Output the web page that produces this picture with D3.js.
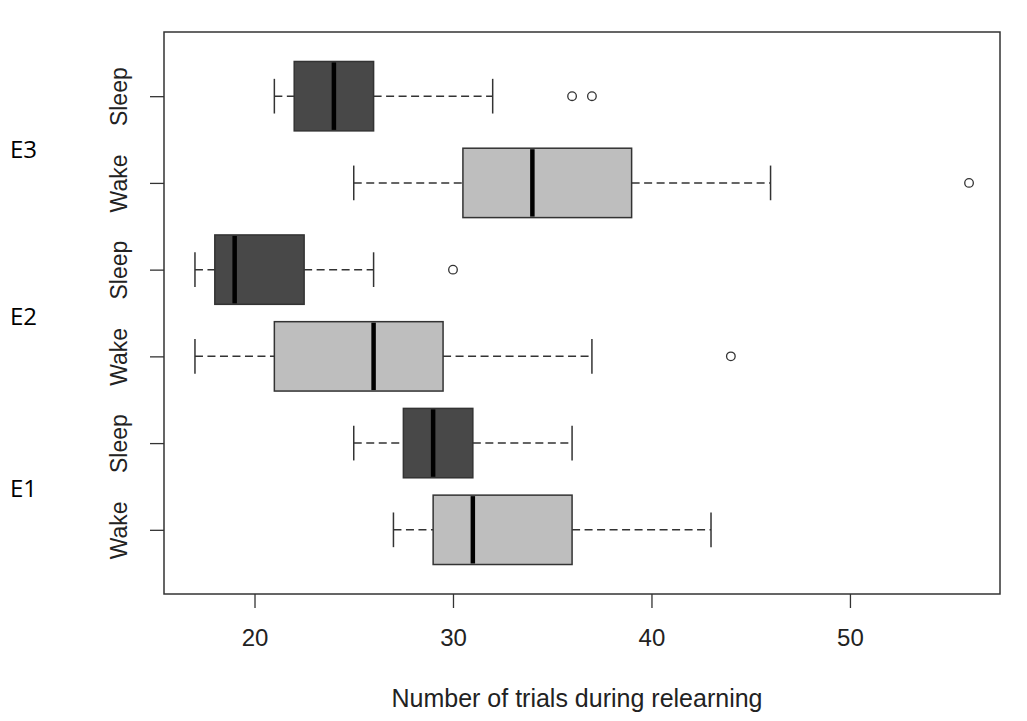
<!DOCTYPE html>
<html lang="en">
  <head>
    <meta charset="UTF-8">
    <title>Relearning trials</title>
    <style>
body {margin: 0; background: #fff;}
text {font-family: "Liberation Sans", Arial, sans-serif;}
.exp {font-family: "Open Sans", "Noto Sans", sans-serif;}
</style>
  </head>
  <body>
<div id="my_dataviz"></div>
<script src="https://d3js.org/d3.v7.min.js"></script>
<script>

// boxes, from bottom (position 1) to top (position 6)
var conditions  = ["Wake", "Sleep", "Wake", "Sleep", "Wake", "Sleep"];
var experiments = ["E1", "E1", "E2", "E2", "E3", "E3"];
var whiskerLow  = [27, 25,   17,   17,   25,   21];
var q1          = [29, 27.5, 21,   18,   30.5, 22];
var median      = [31, 29,   26,   19,   34,   24];
var q3          = [36, 31,   29.5, 22.5, 39,   26];
var whiskerHigh = [43, 36,   37,   26,   46,   32];
var outliers    = [[], [], [44], [30], [56], [36, 37]];
var xTicks      = [20, 30, 40, 50];
var expLabels   = ["E1", "E2", "E3"];
var expPos      = [1.38, 3.36, 5.29];   // label baseline, in box-position units

var boxes = conditions.map(function(c, i) {
  return {pos: i + 1, cond: c, exp: experiments[i], lo: whiskerLow[i], q1: q1[i],
          med: median[i], q3: q3[i], hi: whiskerHigh[i], out: outliers[i]};
});

var W = 1027, H = 721;
var plot = {left: 164, right: 1000, top: 32, bottom: 594};

var svg = d3.select("#my_dataviz")
  .append("svg")
    .attr("width", W)
    .attr("height", H);

// R style 4% extension of the data range
var allVals = d3.merge([whiskerLow, whiskerHigh, d3.merge(outliers)]);
var xmin = d3.min(allVals), xmax = d3.max(allVals);
var pad = (xmax - xmin) * 0.04;
var x = d3.scaleLinear()
  .domain([xmin - pad, xmax + pad])
  .range([plot.left, plot.right]);

var ypad = 6 * 0.04;
var y = d3.scaleLinear()
  .domain([0.5 - ypad, 6.5 + ypad])
  .range([plot.bottom, plot.top]);

var unit = y(0) - y(1);
var boxH = unit * 0.8;
var capH = boxH * 0.5;
var ink = "#333";

// boxes
var g = svg.selectAll(".box")
  .data(boxes)
  .enter()
  .append("g")
    .attr("class", "box")
    .attr("transform", function(d) { return "translate(0," + y(d.pos) + ")"; });

// whiskers (dashed)
g.append("line")
  .attr("x1", function(d) { return x(d.lo); })
  .attr("x2", function(d) { return x(d.q1); })
  .attr("stroke", ink).attr("stroke-width", 1.5).attr("stroke-dasharray", "8,4.5");
g.append("line")
  .attr("x1", function(d) { return x(d.q3); })
  .attr("x2", function(d) { return x(d.hi); })
  .attr("stroke", ink).attr("stroke-width", 1.5).attr("stroke-dasharray", "8,4.5");

// staples
g.selectAll(".cap")
  .data(function(d) { return [d.lo, d.hi]; })
  .enter()
  .append("line")
    .attr("x1", function(v) { return x(v); })
    .attr("x2", function(v) { return x(v); })
    .attr("y1", -capH / 2)
    .attr("y2", capH / 2)
    .attr("stroke", ink).attr("stroke-width", 1.5);

g.append("rect")
  .attr("x", function(d) { return x(d.q1); })
  .attr("y", -boxH / 2)
  .attr("width", function(d) { return x(d.q3) - x(d.q1); })
  .attr("height", boxH)
  .attr("fill", function(d) { return d.cond == "Sleep" ? "#484848" : "#bebebe"; })
  .attr("stroke", ink).attr("stroke-width", 1.5);

g.append("line")
  .attr("x1", function(d) { return x(d.med); })
  .attr("x2", function(d) { return x(d.med); })
  .attr("y1", -boxH / 2 + 1)
  .attr("y2", boxH / 2 - 1)
  .attr("stroke", "#000").attr("stroke-width", 4.5);

g.selectAll("circle")
  .data(function(d) { return d.out; })
  .enter()
  .append("circle")
    .attr("cx", function(v) { return x(v); })
    .attr("r", 4.3)
    .attr("fill", "none")
    .attr("stroke", ink).attr("stroke-width", 1.3);

// frame
svg.append("rect")
  .attr("x", plot.left)
  .attr("y", plot.top)
  .attr("width", plot.right - plot.left)
  .attr("height", plot.bottom - plot.top)
  .attr("fill", "none")
  .attr("stroke", ink).attr("stroke-width", 1.5);

// x axis
var xAxis = svg.append("g")
  .attr("transform", "translate(0," + plot.bottom + ")")
  .call(d3.axisBottom(x).tickValues(xTicks).tickSize(14).tickPadding(21).tickSizeOuter(0));
xAxis.select(".domain").remove();
xAxis.selectAll("line").attr("stroke", ink).attr("stroke-width", 1.3);
xAxis.selectAll("text").attr("font-size", 24).attr("fill", "#222")
  .attr("font-family", "Liberation Sans, Arial, sans-serif");

svg.append("text")
  .attr("x", (plot.left + plot.right) / 2 - 5)
  .attr("y", 707)
  .attr("text-anchor", "middle")
  .attr("font-size", 25)
  .attr("fill", "#222")
  .text("Number of trials during relearning");

// y axis with rotated condition labels
var yAxis = svg.append("g")
  .attr("transform", "translate(" + plot.left + ",0)")
  .call(d3.axisLeft(y).tickValues(boxes.map(function(d) { return d.pos; }))
    .tickFormat(function(p) { return conditions[p - 1]; })
    .tickSize(14).tickSizeOuter(0));
yAxis.select(".domain").remove();
yAxis.selectAll("line").attr("stroke", ink).attr("stroke-width", 1.3);
yAxis.selectAll("text")
  .attr("font-size", 23)
  .attr("fill", "#222")
  .attr("font-family", "Liberation Sans, Arial, sans-serif")
  .attr("text-anchor", "middle")
  .attr("dy", 0)
  .attr("x", 0)
  .attr("transform", "translate(-37,0) rotate(-90)");

// experiment labels on the far left
svg.selectAll(".exp")
  .data(expLabels)
  .enter()
  .append("text")
    .attr("class", "exp")
    .attr("x", 10)
    .attr("y", function(d, i) { return y(expPos[i]); })
    .attr("font-size", 24)
    .attr("fill", "#000")
    .text(function(d) { return d; });

</script>
  </body>
</html>
